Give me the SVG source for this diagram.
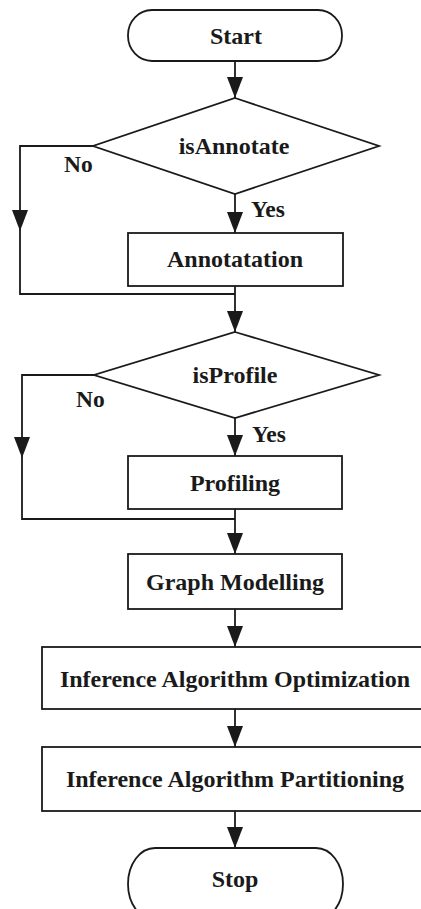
<svg xmlns="http://www.w3.org/2000/svg" width="421" height="909" viewBox="0 0 421 909">
  <style>
    .shape { fill: #ffffff; stroke: #1a1a1a; stroke-width: 1.8; }
    .wire { fill: none; stroke: #1a1a1a; stroke-width: 1.8; }
    .head { fill: #1a1a1a; }
    .label { font-family: "Liberation Serif", "Times New Roman", serif; font-weight: bold; font-size: 24px; fill: #1a1a1a; text-anchor: middle; }
    .tag { font-family: "Liberation Serif", "Times New Roman", serif; font-weight: bold; font-size: 23.5px; fill: #1a1a1a; }
  </style>
  <rect width="421" height="909" fill="#ffffff"/>

  <!-- connectors -->
  <g id="connectors">
    <!-- Start -> isAnnotate -->
    <path class="wire" d="M235,61 V98"/>
    <polygon class="head" points="227,77 243,77 235,98"/>
    <!-- isAnnotate yes -> Annotatation -->
    <path class="wire" d="M235,194 V233"/>
    <polygon class="head" points="227,212 243,212 235,233"/>
    <!-- isAnnotate no branch -->
    <path class="wire" d="M93,146 H20 V294 H235"/>
    <polygon class="head" points="12,210 28,210 20,231"/>
    <!-- Annotatation -> merge -> isProfile -->
    <path class="wire" d="M235,286 V332"/>
    <polygon class="head" points="227,311 243,311 235,332"/>
    <!-- isProfile yes -> Profiling -->
    <path class="wire" d="M235,418 V456"/>
    <polygon class="head" points="227,435 243,435 235,456"/>
    <!-- isProfile no branch -->
    <path class="wire" d="M94,375 H22 V519 H235"/>
    <polygon class="head" points="14,437 30,437 22,458"/>
    <!-- Profiling -> merge -> Graph Modelling -->
    <path class="wire" d="M235,509 V554"/>
    <polygon class="head" points="227,533 243,533 235,554"/>
    <!-- Graph Modelling -> Optimization -->
    <path class="wire" d="M235,609 V647"/>
    <polygon class="head" points="227,626 243,626 235,647"/>
    <!-- Optimization -> Partitioning -->
    <path class="wire" d="M235,709 V747"/>
    <polygon class="head" points="227,726 243,726 235,747"/>
    <!-- Partitioning -> Stop -->
    <path class="wire" d="M235,811 V848"/>
    <polygon class="head" points="227,827 243,827 235,848"/>
    <text class="tag" x="64" y="172">No</text>
    <text class="tag" x="251" y="217">Yes</text>
    <text class="tag" x="76" y="407">No</text>
    <text class="tag" x="252" y="442">Yes</text>
  </g>

  <g id="start">
    <rect class="shape" x="128" y="10" width="214" height="51" rx="24" ry="25"/>
    <text class="label" x="236" y="44">Start</text>
  </g>

  <g id="isAnnotate">
    <polygon class="shape" points="235,98 379,146 235,194 93,146"/>
    <text class="label" x="234" y="154">isAnnotate</text>
  </g>

  <g id="annotatation">
    <rect class="shape" x="128" y="233" width="215" height="53"/>
    <text class="label" x="235" y="267">Annotatation</text>
  </g>

  <g id="isProfile">
    <polygon class="shape" points="235,332 379,375 235,418 94,375"/>
    <text class="label" x="235" y="383">isProfile</text>
  </g>

  <g id="profiling">
    <rect class="shape" x="128" y="456" width="214" height="53"/>
    <text class="label" x="235" y="491">Profiling</text>
  </g>

  <g id="graph-modelling">
    <rect class="shape" x="128" y="554" width="214" height="55"/>
    <text class="label" x="235" y="590">Graph Modelling</text>
  </g>

  <g id="optimization">
    <rect class="shape" x="42" y="647" width="384" height="62"/>
    <text class="label" x="235" y="687">Inference Algorithm Optimization</text>
  </g>

  <g id="partitioning">
    <rect class="shape" x="42" y="747" width="384" height="64"/>
    <text class="label" x="235" y="787">Inference Algorithm Partitioning</text>
  </g>

  <g id="stop">
    <rect class="shape" x="128" y="848" width="215" height="72" rx="27" ry="36"/>
    <text class="label" x="235" y="887">Stop</text>
  </g>
</svg>
